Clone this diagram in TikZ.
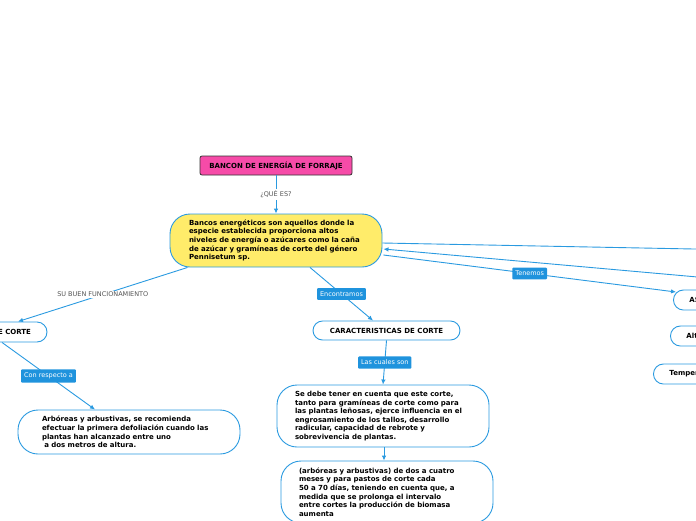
\documentclass[tikz,border=0pt]{standalone}
\usepackage{fontspec}
\setmainfont{DejaVu Sans}
\usepackage{xcolor}
\usetikzlibrary{shapes,arrows.meta,positioning,calc}
\definecolor{mapblue}{HTML}{2A9AE0}
\definecolor{tagblue}{HTML}{1F93DD}
\definecolor{titlepink}{HTML}{F64BA8}
\definecolor{mainyellow}{HTML}{FFEC6A}
\definecolor{notegray}{HTML}{555555}

\begin{document}
\begin{tikzpicture}[
    x=1pt, y=-1pt,
    every node/.style={font=\fontsize{7}{8.6}\selectfont},
    title/.style={rectangle, draw=black!80, fill=titlepink, rounded corners=2pt, line width=0.8pt, minimum width=152pt, minimum height=19pt, font=\fontsize{7}{8.6}\selectfont\bfseries},
    idea/.style={rectangle, draw=mapblue, fill=white, line width=0.9pt, align=left, font=\fontsize{7}{8.6}\selectfont\bfseries},
    pill/.style={idea, anchor=west, minimum width=80pt, minimum height=20pt, rounded corners=10pt, inner xsep=16pt, text width=48pt},
    tag/.style={rectangle, fill=tagblue, text=white, rounded corners=1pt, inner xsep=3pt, inner ysep=3.5pt, font=\fontsize{6.5}{6.5}\selectfont},
    note/.style={fill=white, text=notegray, inner sep=1.5pt, font=\fontsize{6.5}{6.5}\selectfont},
    link/.style={draw=mapblue, line width=0.9pt, -{Latex[length=5pt,width=4.5pt]}}
]
    \useasboundingbox (0,0) rectangle (696,520);

    % Title
    \node[title] (bancon) at (276,165.5) {BANCON DE ENERGÍA DE FORRAJE};

    % Main idea
    \node[idea, fill=mainyellow, rounded corners=20pt, minimum height=53pt, inner xsep=19pt, text width=174pt] (bancos) at (276,240.5)
        {Bancos energéticos son aquellos donde la\\especie establecida proporciona altos\\niveles de energía o azúcares como la caña\\de azúcar y gramíneas de corte del género\\Pennisetum sp.};

    % Left branch
    \node[idea, minimum width=80pt, minimum height=20pt, rounded corners=10pt, inner xsep=16pt, text width=48pt, align=right] (ecorte) at (7,332) {E CORTE};
    \node[idea, rounded corners=20pt, minimum height=44pt, inner xsep=24pt, text width=174pt] (arbol) at (129,432)
        {Arbóreas y arbustivas, se recomienda\\efectuar la primera defoliación cuando las\\plantas han alcanzado entre uno\\\ a dos metros de altura.};

    % Middle branch
    \node[idea, align=center, minimum width=147pt, minimum height=19pt, rounded corners=9.5pt] (caract) at (386.5,330.5) {CARACTERISTICAS DE CORTE};
    \node[idea, rounded corners=20pt, minimum height=62pt, inner xsep=18pt, text width=176pt] (tallos) at (383,416)
        {Se debe tener en cuenta que este corte,\\tanto para gramíneas de corte como para\\las plantas leñosas, ejerce influencia en el\\engrosamiento de los tallos, desarrollo\\radicular, capacidad de rebrote y\\sobrevivencia de plantas.};
    \node[idea, rounded corners=20pt, minimum height=62pt, inner xsep=18pt, text width=176pt] (meses) at (387,492)
        {(arbóreas y arbustivas) de dos a cuatro\\meses y para pastos de corte cada\\50 a 70 días, teniendo en cuenta que, a\\medida que se prolonga el intervalo\\entre cortes la producción de biomasa\\aumenta};

    % Right branch
    \node[pill] (asp) at (673,300) {AS};
    \node[pill] (alt) at (670,336) {Alt};
    \node[pill] (temp) at (653,374) {Temper};
    \coordinate (offA) at (720,249.5);
    \coordinate (offB) at (720,279);

    % Arrows
    \draw[link] (bancon) -- node[note] (ques) {¿QUÉ ES?} (bancos);
    \draw[link] ([xshift=18pt]bancos.south west) -- node[note] (func) {SU BUEN FUNCIONAMIENTO} ([xshift=11pt]ecorte.north);
    \draw[link] ([xshift=-5pt]ecorte.south) -- node[tag] (resp) {Con respecto a} ([xshift=-34pt]arbol.north);
    \draw[link] ([xshift=34pt]bancos.south) -- node[tag] (enc) {Encontramos} ([xshift=-13.5pt]caract.north);
    \draw[link] (caract.south) -- node[tag] (cual) {Las cuales son} (tallos.north);
    \draw[link] ([xshift=1pt]tallos.south) -- ([xshift=-3pt]meses.north);
    \draw[link] ([yshift=-2.5pt]bancos.east) -- (offA);
    \draw[link] (offB) -- ([xshift=1pt,yshift=-8.5pt]bancos.east);
    \draw[link] ([xshift=1pt,yshift=-14.5pt]bancos.east) -- node[tag] (ten) {Tenemos} ([xshift=3pt,yshift=8pt]asp.west);
\end{tikzpicture}
\end{document}
